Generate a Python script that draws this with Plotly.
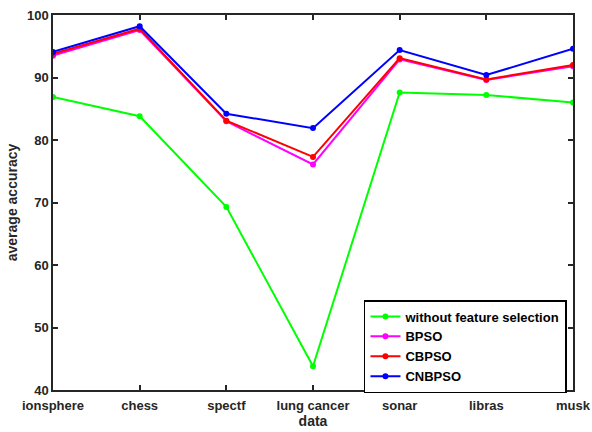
import plotly.graph_objects as go

categories = ["ionsphere", "chess", "spectf", "lung cancer", "sonar", "libras", "musk"]
without_fs = [86.9, 83.8, 69.3, 43.8, 87.6, 87.2, 86.0]
bpso = [93.5, 97.6, 83.0, 76.1, 92.9, 89.6, 91.8]
cbpso = [93.8, 97.8, 83.1, 77.3, 93.1, 89.7, 92.0]
cnbpso = [94.1, 98.2, 84.2, 81.9, 94.4, 90.4, 94.6]
y_ticks = [40, 50, 60, 70, 80, 90, 100]

series = [
    ("without feature selection", without_fs, "#00ff00"),
    ("BPSO", bpso, "#ff00ff"),
    ("CBPSO", cbpso, "#ff0000"),
    ("CNBPSO", cnbpso, "#0000ff"),
]

fig = go.Figure()
xs = list(range(len(categories)))
for name, vals, col in series:
    fig.add_trace(go.Scatter(x=xs, y=vals, name=name, mode="lines+markers",
                             line=dict(color=col, width=2),
                             marker=dict(color=col, size=6)))

axis_col = "#262626"
fam = "Liberation Sans, Arial, sans-serif"
fig.update_layout(
    width=592, height=432,
    margin=dict(l=53, r=19, t=15, b=42),
    plot_bgcolor="white", paper_bgcolor="white",
    font=dict(family=fam, size=13, color=axis_col),
    showlegend=True,
    legend=dict(x=0.598, y=0.24, xanchor="left", yanchor="top",
                bordercolor="black", borderwidth=1.5, bgcolor="white",
                font=dict(family=fam, size=13, color="black", weight="bold"),
                tracegroupgap=0, itemwidth=30),
)
fig.update_xaxes(
    range=[0, len(categories) - 1], tickmode="array", tickvals=xs, ticktext=categories,
    showline=True, linecolor=axis_col, linewidth=1.5, mirror="ticks",
    ticks="inside", ticklen=5, tickcolor=axis_col, tickwidth=1.5, showgrid=False, zeroline=False,
    tickfont=dict(family=fam, size=13, color=axis_col, weight="bold"),
    ticklabelstandoff=3,
    automargin=False,
    title=dict(text="data", standoff=2,
               font=dict(family=fam, size=14, color=axis_col, weight="bold")),
)
fig.update_yaxes(
    range=[40, 100], tickmode="array", tickvals=y_ticks,
    showline=True, linecolor=axis_col, linewidth=1.5, mirror="ticks",
    ticks="inside", ticklen=5, tickcolor=axis_col, tickwidth=1.5, showgrid=False, zeroline=False,
    tickfont=dict(family=fam, size=13, color=axis_col, weight="bold"),
    automargin=False,
    title=dict(text="average accuracy", standoff=6,
               font=dict(family=fam, size=14, color=axis_col, weight="bold")),
)
fig.write_html("out.html")
